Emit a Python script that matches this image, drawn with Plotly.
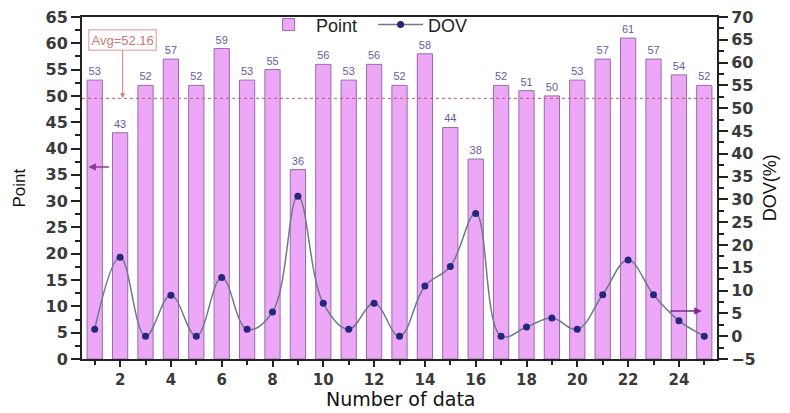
import plotly.graph_objects as go

# ---------- data ----------
data_no = list(range(1, 26))
points = [53, 43, 52, 57, 52, 59, 53, 55, 36, 56, 53, 56, 52, 58, 44,
          38, 52, 51, 50, 53, 57, 61, 57, 54, 52]
dov = [1.5, 17.3, 0.0, 9.0, 0.0, 12.9, 1.5, 5.3, 30.7, 7.2, 1.5, 7.2, 0.0,
       11.0, 15.3, 26.9, 0.0, 2.0, 4.0, 1.5, 9.1, 16.7, 9.1, 3.4, 0.0]
avg_value = 52.16
x_ticks = list(range(2, 25, 2))

y_tick_font = dict(family="DejaVu Sans", size=16, color="#3a3a3a", weight="bold")
x_tick_font = dict(family="DejaVu Sans", size=15, color="#3a3a3a", weight="bold")

fig = go.Figure()

fig.add_trace(go.Bar(
    x=data_no, y=points, name="Point", width=0.6,
    marker=dict(color="#ECA8F6", line=dict(color="#9A6AAA", width=1)),
    text=points, textposition="outside", cliponaxis=False,
    textfont=dict(size=11, color="#6A5C9C", family="Liberation Sans, Arial"),
    yaxis="y",
))

fig.add_trace(go.Scatter(
    x=data_no, y=dov, name="DOV", mode="lines+markers",
    line=dict(shape="spline", smoothing=1.1, color="#6F7890", width=1.5),
    marker=dict(color="#25287A", size=7),
    yaxis="y2",
))

# average line (drawn against the right axis)
fig.add_shape(type="line", xref="paper", x0=0, x1=1, yref="y2",
              y0=avg_value, y1=avg_value,
              line=dict(color="#C05A6A", width=1, dash="dot"))
fig.add_annotation(x=2.1, y=avg_value, yref="y2", xref="x",
                   text="Avg=52.16", showarrow=True, ax=0, ay=-58,
                   arrowhead=2, arrowsize=1, arrowwidth=1, arrowcolor="#D08080",
                   font=dict(size=13, color="#D07878", family="Liberation Sans, Arial"),
                   bordercolor="#E8B8B8", borderwidth=1.5, bgcolor="white", borderpad=2)

# axis indicator arrows
fig.add_annotation(x=0.75, y=36.5, xref="x", yref="y", text="", showarrow=True,
                   ax=22, ay=0, arrowhead=2, arrowwidth=1.5, arrowcolor="#8A3A9A")
fig.add_annotation(x=24.9, y=5.5, xref="x", yref="y2", text="", showarrow=True,
                   ax=-33, ay=0, arrowhead=2, arrowwidth=1.5, arrowcolor="#7A2A8A")

# axis titles
fig.add_annotation(text="Number of data", xref="paper", yref="paper", x=0.503, y=-0.118,
                   yanchor="middle", showarrow=False,
                   font=dict(family="DejaVu Sans", size=19, color="#111"))
fig.add_annotation(text="Point", xref="paper", yref="paper", x=-0.1, y=0.5,
                   xanchor="center", textangle=-90, showarrow=False,
                   font=dict(family="Liberation Sans, Arial", size=17, color="#111"))
fig.add_annotation(text="DOV(%)", xref="paper", yref="paper", x=1.084, y=0.5,
                   xanchor="center", textangle=-90, showarrow=False,
                   font=dict(family="Liberation Sans, Arial", size=18, color="#111"))

axis_common = dict(
    showgrid=False, zeroline=False, automargin=False, ticklabeloverflow="allow",
    showline=True, linecolor="#222", linewidth=2,
    ticks="outside", tickwidth=1.5, tickcolor="#222",
)

fig.update_layout(
    width=790, height=413,
    # page body has an 8px margin, so the plot box is shifted to compensate
    margin=dict(l=74, r=81, t=9, b=62, autoexpand=False),
    plot_bgcolor="white", paper_bgcolor="white",
    showlegend=True,
    legend=dict(orientation="h", x=0.282, y=0.977, xanchor="left", yanchor="middle",
                bgcolor="rgba(0,0,0,0)", itemwidth=45, entrywidth=52,
                font=dict(size=18, family="Liberation Sans, Arial", color="#222")),
    xaxis=dict(
        range=[0.5, 25.5], tickvals=x_ticks, mirror=True, ticklen=6,
        minor=dict(dtick=1, tick0=1, ticklen=4, ticks="outside", tickcolor="#222"),
        tickfont=x_tick_font, **axis_common,
    ),
    yaxis=dict(
        range=[0, 65], dtick=5, ticklen=9,
        minor=dict(dtick=2.5, ticklen=5, ticks="outside", tickcolor="#222"),
        tickfont=y_tick_font, **axis_common,
    ),
    yaxis2=dict(
        range=[-5, 70], dtick=5, overlaying="y", side="right", ticklen=9,
        minor=dict(dtick=2.5, ticklen=5, ticks="outside", tickcolor="#222"),
        tickfont=y_tick_font, **axis_common,
    ),
)

fig.write_html("out.html")
